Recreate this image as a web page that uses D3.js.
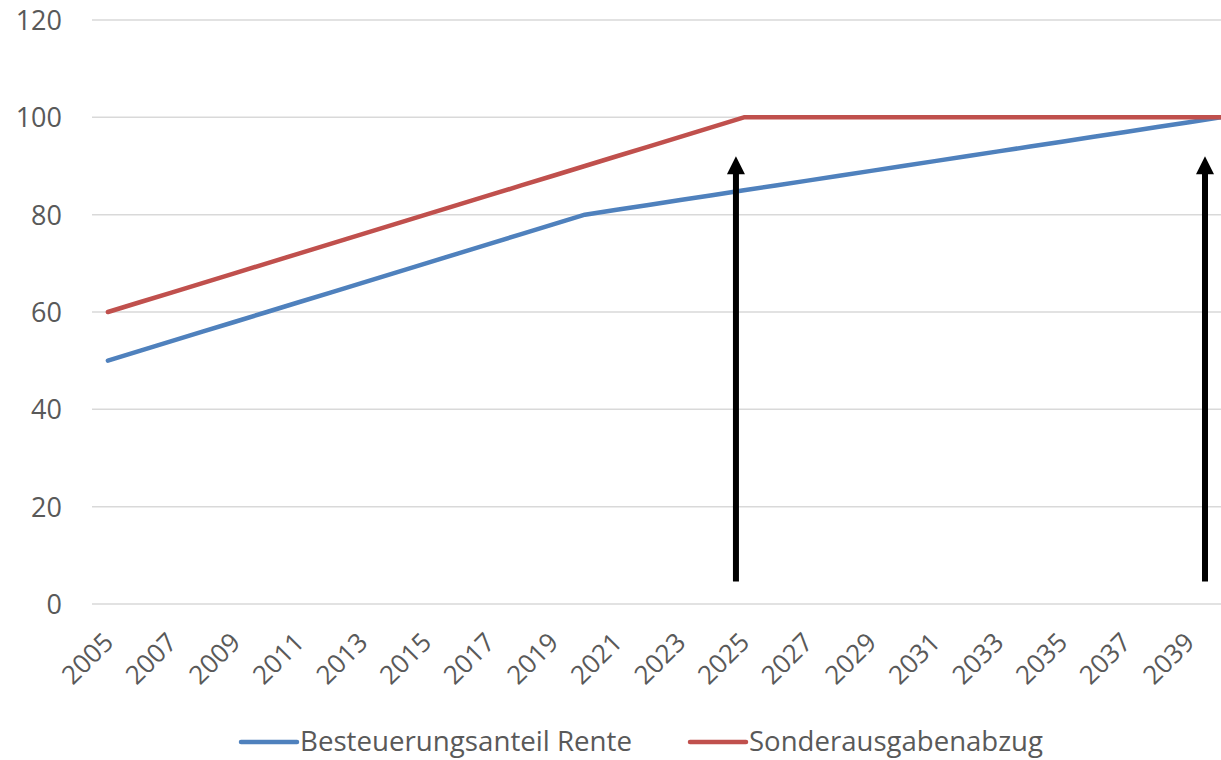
<!DOCTYPE html>
<html>
<head>
<meta charset="utf-8">
<script src="https://cdn.jsdelivr.net/npm/d3@7"></script>
<style>
  html, body { margin: 0; padding: 0; background: #fff; }
  svg { display: block; }
  text { font-family: "Open Sans", "Lato", sans-serif; fill: #595959; }
</style>
</head>
<body>
<svg id="chart" width="1221" height="760"></svg>
<script>
// ---- data ----
const years = d3.range(2005, 2041);
const besteuerungsanteil = [50,52,54,56,58,60,62,64,66,68,70,72,74,76,78,80,81,82,83,84,85,86,87,88,89,90,91,92,93,94,95,96,97,98,99,100];
const sonderausgabenabzug = [60,62,64,66,68,70,72,74,76,78,80,82,84,86,88,90,92,94,96,98,100,100,100,100,100,100,100,100,100,100,100,100,100,100,100,100];
const seriesNames = ["Besteuerungsanteil Rente", "Sonderausgabenabzug"];
const seriesColors = ["#4F81BD", "#C0504D"];
const yTicks = [0, 20, 40, 60, 80, 100, 120];
const xTickLabels = years.filter(y => (y - 2005) % 2 === 0);
// annotation arrows (year position, start value, tip value)
const arrowYears = [2024.75, 2039.5];
const arrowFrom = 4.6;
const arrowTo = 92;

// ---- layout ----
const svg = d3.select("#chart");
const mLeft = 92, mTop = 20, mBottom = 604;
const step = 31.8;
const x = d3.scaleBand().domain(years).range([mLeft, mLeft + years.length * step]).padding(0);
const xc = yr => x(yr) + x.bandwidth() / 2;
const xLin = d3.scaleLinear().domain([2005, 2040]).range([xc(2005), xc(2040)]);
const y = d3.scaleLinear().domain([0, 120]).range([mBottom, mTop]);

// gridlines
svg.append("g").selectAll("line").data(yTicks).join("line")
  .attr("x1", mLeft).attr("x2", mLeft + years.length * step)
  .attr("y1", d => y(d)).attr("y2", d => y(d))
  .attr("stroke", "#d9d9d9").attr("stroke-width", 1.5);

// y axis
const yAxis = svg.append("g").attr("transform", `translate(${mLeft - 30},0)`)
  .call(d3.axisLeft(y).tickValues(yTicks).tickSize(0).tickPadding(0));
yAxis.select(".domain").remove();
yAxis.selectAll("text").style("font-size", "27px").attr("fill", "#595959")
  .attr("font-family", "Open Sans").attr("dy", "0.35em");

// x axis
const xAxis = svg.append("g").attr("transform", `translate(0,${mBottom})`)
  .call(d3.axisBottom(x).tickValues(xTickLabels).tickSize(0).tickFormat(d3.format("d")));
xAxis.select(".domain").remove();
xAxis.selectAll("text")
  .style("font-size", "26px").attr("fill", "#595959").attr("font-family", "Open Sans")
  .attr("text-anchor", "end")
  .attr("transform", "translate(7,40) rotate(-45)")
  .attr("x", 0).attr("y", 0).attr("dy", 0);

// lines
const line = d3.line().x((d, i) => xc(years[i])).y(d => y(d));
[besteuerungsanteil, sonderausgabenabzug].forEach((s, i) => {
  svg.append("path").datum(s)
    .attr("d", line).attr("fill", "none")
    .attr("stroke", seriesColors[i]).attr("stroke-width", 4.5)
    .attr("stroke-linecap", "round").attr("stroke-linejoin", "round");
});

// arrows
arrowYears.forEach(yr => {
  const ax = xLin(yr);
  svg.append("line")
    .attr("x1", ax).attr("x2", ax)
    .attr("y1", y(arrowFrom)).attr("y2", y(arrowTo) + 16)
    .attr("stroke", "#000").attr("stroke-width", 6);
  svg.append("path")
    .attr("d", `M${ax},${y(arrowTo)} L${ax + 9},${y(arrowTo) + 18} L${ax - 9},${y(arrowTo) + 18} Z`)
    .attr("fill", "#000");
});

// legend
const legendItems = [
  { name: seriesNames[0], color: seriesColors[0], x0: 241, w: 332 },
  { name: seriesNames[1], color: seriesColors[1], x0: 690, w: 294 }
];
const lg = svg.append("g");
legendItems.forEach(it => {
  lg.append("line").attr("x1", it.x0).attr("x2", it.x0 + 56)
    .attr("y1", 742).attr("y2", 742)
    .attr("stroke", it.color).attr("stroke-width", 4.5).attr("stroke-linecap", "round");
  lg.append("text").attr("x", it.x0 + 59).attr("y", 742).attr("dy", "0.35em")
    .style("font-size", "27px").attr("fill", "#595959")
    .attr("textLength", it.w).attr("lengthAdjust", "spacingAndGlyphs")
    .text(it.name);
});
</script>
</body>
</html>
